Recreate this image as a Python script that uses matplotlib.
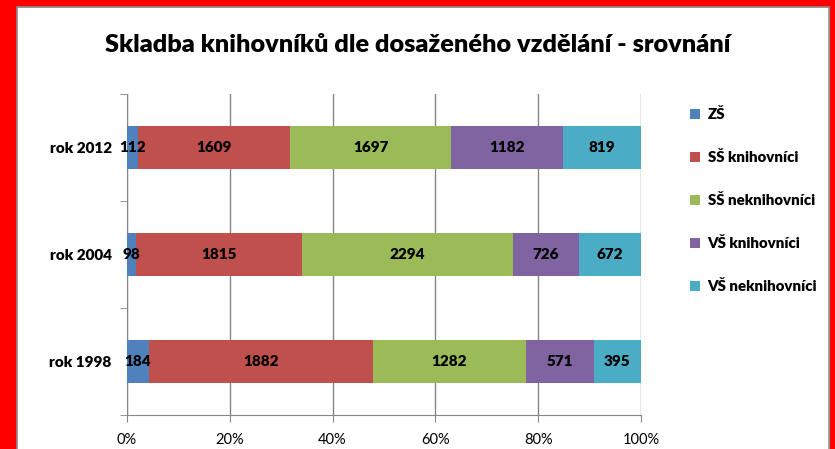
import matplotlib
matplotlib.use("Agg")
import matplotlib.pyplot as plt
from matplotlib.patches import Rectangle, Patch
import numpy as np

plt.rcParams['font.family'] = ['Lato', 'DejaVu Sans']

categories = ["rok 1998", "rok 2004", "rok 2012"]
series_names = ["ZŠ", "SŠ knihovníci", "SŠ neknihovníci", "VŠ knihovníci", "VŠ neknihovníci"]
zs = [184, 98, 112]
ss_kn = [1882, 1815, 1609]
ss_nekn = [1282, 2294, 1697]
vs_kn = [571, 726, 1182]
vs_nekn = [395, 672, 819]
colors = ["#4F81BD", "#C0504D", "#9BBB59", "#8064A2", "#4BACC6"]
xticklabels = ["0%", "20%", "40%", "60%", "80%", "100%"]

W, H = 835, 449
fig = plt.figure(figsize=(W/100, H/100), dpi=100)

# frame decorations
fig.patches.append(Rectangle((0, 0), 16/W, 1, transform=fig.transFigure, color="#FF0000", zorder=0))
fig.patches.append(Rectangle((0, 1-6/H), 1, 6/H, transform=fig.transFigure, color="#FF0000", zorder=0))
fig.patches.append(Rectangle((1-5/W, 0), 5/W, 1, transform=fig.transFigure, color="#FF0000", zorder=0))
fig.patches.append(Rectangle((17/W, -0.01), (829-17)/W, 1-7/H+0.01, transform=fig.transFigure,
                             fill=False, edgecolor="#8C8C8C", linewidth=1.2, zorder=1))

x0, x1 = 127, 641
y0, y1 = 94, 415
ax = fig.add_axes([x0/W, 1-y1/H, (x1-x0)/W, (y1-y0)/H])

data = np.array([zs, ss_kn, ss_nekn, vs_kn, vs_nekn], dtype=float)
totals = data.sum(axis=0)
pct = data / totals * 100
y = np.arange(len(categories))
left = np.zeros(len(categories))
handles = []
for i, name in enumerate(series_names):
    ax.barh(y, pct[i], left=left, height=0.41, color=colors[i], zorder=3)
    for j in range(len(categories)):
        ax.text(left[j] + pct[i][j]/2, y[j], f"{int(data[i][j])}", ha="center", va="center",
                fontsize=11, fontweight="heavy", color="black", zorder=4)
    left += pct[i]
    handles.append(Patch(facecolor=colors[i], label=name))

ax.set_xlim(0, 100)
ax.set_ylim(-0.5, 2.5)
ax.set_xticks(np.arange(0, 101, 20))
ax.set_xticklabels(xticklabels, fontsize=10.5)
ax.set_yticks(y)
ax.set_yticklabels(categories, fontsize=11, fontweight="heavy")
ax.set_yticks([-0.5, 0.5, 1.5, 2.5], minor=True)
ax.tick_params(axis="y", which="major", length=0, pad=11)
ax.tick_params(axis="y", which="minor", length=5, color="#868686")
ax.tick_params(axis="x", length=5, color="#868686", pad=8)
for s in ["top", "right"]:
    ax.spines[s].set_visible(False)
ax.spines["left"].set_color("#868686")
ax.spines["bottom"].set_color("#868686")
ax.xaxis.grid(True, color="#868686", linewidth=1.0, zorder=0)
ax.set_axisbelow(True)

fig.text(0.5, 1-45/H, "Skladba knihovníků dle dosaženého vzdělání - srovnání",
         ha="center", va="center", fontsize=18.2, fontweight="heavy")

fig.legend(handles=handles, loc="upper left", bbox_to_anchor=(676/W, 1-94/H),
           frameon=False, handlelength=0.7, handleheight=0.7, handletextpad=0.5,
           labelspacing=1.95, prop={"weight": "heavy", "size": 10.8})

fig.savefig("out.png", dpi=100)
